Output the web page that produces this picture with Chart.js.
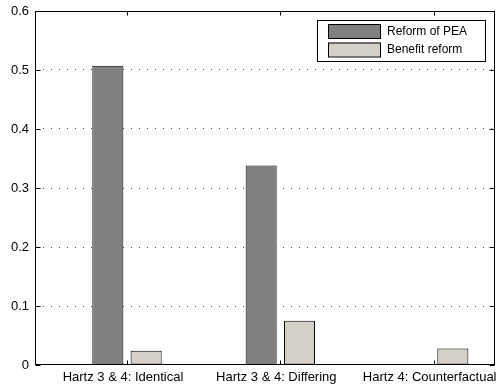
<!DOCTYPE html>
<html>
<head>
<meta charset="utf-8">
<script src="https://cdn.jsdelivr.net/npm/chart.js@4/dist/chart.umd.min.js"></script>
<style>
  html, body { margin: 0; padding: 0; background: #ffffff; }
  #wrap { width: 503px; height: 385px; }
</style>
</head>
<body>
<div id="wrap"><canvas id="c" width="503" height="385"></canvas></div>
<script>
// Scenario names along the x axis
const categories = ['Hartz 3 & 4: Identical', 'Hartz 3 & 4: Differing', 'Hartz 4: Counterfactual'];
// Series names
const seriesNames = ['Reform of PEA', 'Benefit reform'];
// Values per scenario
const peaReform = [0.507, 0.338, 0];
const benefitReform = [0.024, 0.075, 0.028];
// Y-axis tick values
const yTicks = [0, 0.1, 0.2, 0.3, 0.4, 0.5, 0.6];

const FONT = '"Liberation Sans", Arial, sans-serif';
const colors = ['#808080', '#d4d0c8'];

const toPoints = arr => arr.map((v, i) => ({ x: i + 1, y: v }));

// Box around the plot, inward tick marks and the in-plot legend
const framePlugin = {
  id: 'frame',
  afterDatasetsDraw(chart) {
    const { ctx, chartArea: a, scales } = chart;
    ctx.save();
    ctx.strokeStyle = '#000';
    ctx.lineWidth = 1;
    const L = Math.round(a.left) + 0.5, R = Math.round(a.right) - 0.5;
    const T = Math.round(a.top) + 0.5, B = Math.round(a.bottom) - 0.5;
    ctx.beginPath();
    // tick marks on left/right
    yTicks.forEach(v => {
      const y = Math.round(scales.y.getPixelForValue(v)) + 0.5;
      ctx.moveTo(L, y); ctx.lineTo(L + 5, y);
      ctx.moveTo(R, y); ctx.lineTo(R - 5, y);
    });
    // tick marks on bottom/top
    categories.forEach((c, i) => {
      const x = Math.round(scales.x.getPixelForValue(i + 1)) + 0.5;
      ctx.moveTo(x, B); ctx.lineTo(x, B - 4);
      ctx.moveTo(x, T); ctx.lineTo(x, T + 4);
    });
    ctx.stroke();
    ctx.strokeRect(L, T, R - L, B - T);

    // legend
    const lx = 317, ly = 20, lw = 168, lh = 41;
    ctx.fillStyle = '#fff';
    ctx.fillRect(lx, ly, lw, lh);
    ctx.strokeRect(lx + 0.5, ly + 0.5, lw, lh);
    ctx.font = '12px ' + FONT;
    ctx.textBaseline = 'middle';
    ctx.textAlign = 'left';
    chart.data.datasets.forEach((ds, i) => {
      const ry = ly + 4 + i * 18.5;
      ctx.fillStyle = ds.backgroundColor;
      ctx.fillRect(328, ry, 53, 14);
      ctx.strokeStyle = '#000';
      ctx.strokeRect(328.5, ry + 0.5, 52, 14);
      ctx.fillStyle = '#000';
      ctx.fillText(ds.label, 387, ry + 7.5);
    });
    ctx.restore();
  }
};

new Chart(document.getElementById('c'), {
  type: 'bar',
  data: {
    datasets: [
      { label: seriesNames[0], data: toPoints(peaReform), backgroundColor: colors[0], borderColor: '#000', borderWidth: 1, borderSkipped: false },
      { label: seriesNames[1], data: toPoints(benefitReform), backgroundColor: colors[1], borderColor: '#000', borderWidth: 1, borderSkipped: false }
    ]
  },
  options: {
    responsive: false,
    animation: false,
    events: [],
    datasets: { bar: { categoryPercentage: 0.5, barPercentage: 0.81 } },
    layout: { padding: { top: 11, right: 8, left: 0, bottom: 0 } },
    plugins: { legend: { display: false }, tooltip: { enabled: false } },
    scales: {
      x: {
        type: 'linear',
        min: 0.4,
        max: 3.4,
        offset: false,
        grid: { display: false, drawTicks: false },
        border: { display: false },
        afterBuildTicks(scale) { scale.ticks = categories.map((c, i) => ({ value: i + 1 })); },
        afterFit(scale) { scale.height = 20; scale.paddingLeft = 0; scale.paddingRight = 0; },
        ticks: {
          autoSkip: false,
          maxRotation: 0,
          minRotation: 0,
          padding: 5,
          labelOffset: -4,
          color: '#000',
          font: { family: FONT, size: 13 },
          callback: v => categories[v - 1]
        }
      },
      y: {
        min: 0,
        max: 0.6,
        grid: {
          drawTicks: false,
          color: ctx => (ctx.tick && ctx.tick.value > 0.001 && ctx.tick.value < 0.599) ? '#555' : 'rgba(0,0,0,0)',
          lineWidth: 1
        },
        border: { display: false, dash: [1, 7] },
        afterBuildTicks(scale) { scale.ticks = yTicks.map(v => ({ value: v })); },
        afterFit(scale) { scale.width = 35; scale.paddingTop = 0; scale.paddingBottom = 0; },
        ticks: {
          padding: 6,
          color: '#000',
          font: { family: FONT, size: 13 },
          callback: v => (v === 0 ? '0' : v.toFixed(1))
        }
      }
    }
  },
  plugins: [framePlugin]
});
</script>
</body>
</html>
